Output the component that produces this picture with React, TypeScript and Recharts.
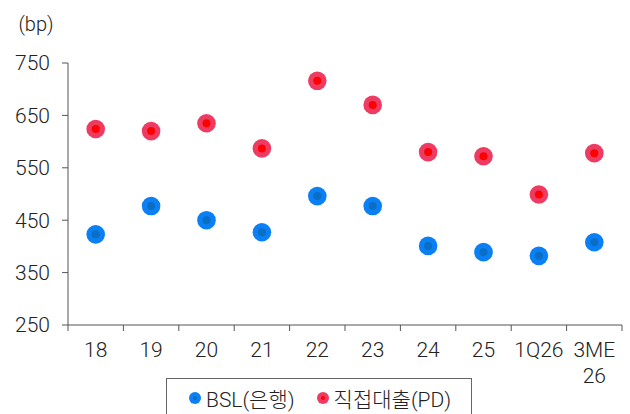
import { ComposedChart, Line, XAxis, YAxis, Legend } from 'recharts';

const categories = ['18', '19', '20', '21', '22', '23', '24', '25', '1Q26', '3ME\n26'];
const bslValues = [423, 477, 450, 427, 496, 477, 401, 389, 382, 408];
const pdValues = [624, 620, 635, 587, 716, 670, 580, 572, 499, 578];
const yTicks = [250, 350, 450, 550, 650, 750];

const SERIES = [
  { key: 'bsl', name: 'BSL(은행)', outer: '#0b7ff4', inner: '#0a6fc4' },
  { key: 'pd', name: '직접대출(PD)', outer: '#ee3b62', inner: '#ff0000' },
];

const FONT = "Roboto, 'Noto Sans CJK KR', sans-serif";
const AXIS = '#555';
const TEXT = '#222';

const data = categories.map((name, i) => ({ name, bsl: bslValues[i], pd: pdValues[i] }));

const makeDot = (outer: string, inner: string) => (props: any) => {
  const { cx, cy, index } = props;
  if (cx == null || cy == null) return <g key={index} />;
  return (
    <g key={index}>
      <circle cx={cx} cy={cy} r={9.3} fill={outer} />
      <circle cx={cx} cy={cy} r={4} fill={inner} />
    </g>
  );
};

// band half-width: plot is 554px wide over the categories
const HALF = 554 / categories.length / 2;

const XTick = (props: any) => {
  const { x, y, payload, index } = props;
  const half = payload.offset || HALF;
  const lines = String(payload.value).split('\n');
  return (
    <g>
      {index === 0 && <line x1={x - half} x2={x - half} y1={y} y2={y + 6} stroke={AXIS} />}
      <line x1={x + half} x2={x + half} y1={y} y2={y + 6} stroke={AXIS} />
      {lines.map((t, i) => (
        <text key={i} x={x} y={y + 32 + i * 26} textAnchor="middle" fill={TEXT} fontSize={21} fontWeight={300} fontFamily={FONT}>
          {t}
        </text>
      ))}
    </g>
  );
};

const renderLegend = () => (
  <div
    style={{
      display: 'flex',
      alignItems: 'center',
      height: 40,
      boxSizing: 'border-box',
      border: '1px solid #666',
      paddingLeft: 22,
      fontFamily: FONT,
      fontSize: 21,
      fontWeight: 300,
      color: TEXT,
    }}
  >
    {SERIES.map((s, i) => (
      <div key={s.key} style={{ display: 'flex', alignItems: 'center', marginRight: i === 0 ? 22 : 0 }}>
        <svg width={12} height={12} style={{ marginRight: 5 }}>
          <circle cx={6} cy={6} r={6} fill={s.outer} />
          <circle cx={6} cy={6} r={2} fill={s.inner} />
        </svg>
        <span>{s.name}</span>
      </div>
    ))}
  </div>
);

export default function App() {
  return (
    <div style={{ position: 'absolute', left: 0, top: 0, width: 630, height: 414, background: '#fff', overflow: 'hidden' }}>
      <ComposedChart width={630} height={414} data={data} margin={{ top: 63, right: 8, left: 0, bottom: 39 }}>
        <XAxis
          dataKey="name"
          scale="band"
          interval={0}
          height={50}
          tickLine={false}
          tickSize={0}
          tickMargin={0}
          axisLine={{ stroke: AXIS }}
          tick={<XTick />}
        />
        <YAxis
          width={68}
          domain={[250, 750]}
          ticks={yTicks}
          interval={0}
          tickSize={6}
          tickMargin={12}
          axisLine={{ stroke: AXIS }}
          tickLine={{ stroke: AXIS }}
          tick={{ fill: TEXT, fontSize: 21, fontWeight: 300, fontFamily: FONT }}
          label={{
            content: (p: any) => (
              <text
                x={p.viewBox.x + p.viewBox.width / 2 + 2}
                y={p.viewBox.y - 32}
                textAnchor="middle"
                fill={TEXT}
                fontSize={20}
                fontWeight={300}
                fontFamily={FONT}
              >
                (bp)
              </text>
            ),
          }}
        />
        <Legend
          layout="horizontal"
          verticalAlign="middle"
          content={renderLegend}
          wrapperStyle={{ position: 'absolute', top: 378, left: 166, width: 306, height: 40 }}
        />
        {SERIES.map((s) => (
          <Line
            key={s.key}
            dataKey={s.key}
            name={s.name}
            stroke="none"
            dot={makeDot(s.outer, s.inner)}
            activeDot={false}
            legendType="circle"
            isAnimationActive={false}
          />
        ))}
      </ComposedChart>
    </div>
  );
}
